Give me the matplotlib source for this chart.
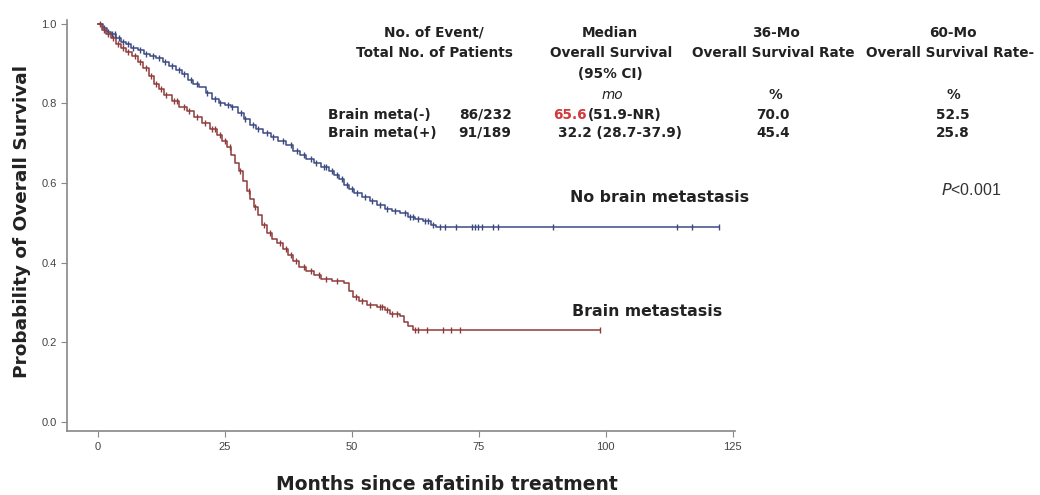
import numpy as np
import matplotlib
matplotlib.use("Agg")
import matplotlib.pyplot as plt

# Kaplan-Meier step points (months, survival probability)
no_bm_time = [0, 1.0, 1.8, 2.6, 3.5, 4.5, 5.5, 6.5, 7.8, 9.0, 10.2, 11.5, 12.8, 14.0,
              15.3, 16.5, 17.8, 18.8, 20.0, 21.2, 22.5, 23.8, 25.0, 26.2, 27.5, 28.8,
              30.0, 31.2, 32.5, 34.0, 35.5, 37.0, 38.5, 39.8, 41.0, 42.5, 44.0, 45.5,
              46.5, 47.5, 48.5, 49.5, 50.5, 52.0, 53.5, 55.0, 56.5, 58.0, 59.5, 61.0,
              62.5, 64.0, 65.5, 66.5, 122.4]
no_bm_surv = [1.0, 0.99, 0.98, 0.975, 0.965, 0.955, 0.95, 0.94, 0.935, 0.925, 0.92,
              0.915, 0.905, 0.895, 0.885, 0.875, 0.86, 0.85, 0.84, 0.825, 0.81, 0.80,
              0.795, 0.79, 0.775, 0.76, 0.745, 0.735, 0.725, 0.715, 0.705, 0.695, 0.68,
              0.67, 0.66, 0.65, 0.64, 0.63, 0.62, 0.61, 0.595, 0.585, 0.575, 0.565,
              0.555, 0.545, 0.535, 0.53, 0.525, 0.515, 0.51, 0.505, 0.495, 0.49, 0.49]
no_bm_censor = [1.2, 2.0, 2.8, 3.3, 4.2, 5.0, 6.0, 7.0, 8.3, 9.5, 10.8, 12.0, 13.3,
                14.5, 16.0, 17.0, 18.3, 19.5, 21.5, 23.0, 24.0, 25.6, 26.5, 28.2, 29.0,
                30.6, 31.5, 33.2, 34.5, 36.5, 38.0, 39.2, 40.5, 42.0, 43.0, 44.6, 45.0,
                46.0, 47.0, 48.0, 49.0, 50.0, 51.0, 52.5, 54.0, 55.5, 57.0, 58.5, 60.5,
                61.5, 62.0, 63.0, 64.5, 65.0, 66.0, 67.3, 68.3, 70.6, 73.6, 74.2, 74.8,
                75.6, 77.8, 78.7, 89.6, 114, 117, 122.4]

bm_time = [0, 0.8, 1.6, 2.5, 3.5, 4.5, 5.5, 6.8, 7.8, 8.8, 10.0, 11.0, 12.0, 13.0,
           14.5, 16.0, 17.5, 19.0, 20.5, 22.0, 23.5, 24.5, 25.5, 26.3, 27.0, 27.8,
           28.5, 29.3, 30.0, 30.8, 31.5, 32.3, 33.2, 34.2, 35.2, 36.5, 37.5, 38.5,
           39.5, 41.0, 42.5, 44.0, 46.0, 48.5, 49.5, 50.3, 51.5, 53.0, 55.0, 56.5,
           57.5, 59.5, 60.2, 61.0, 62.0, 98.8]
bm_surv = [1.0, 0.985, 0.975, 0.965, 0.95, 0.94, 0.93, 0.92, 0.905, 0.89, 0.87, 0.85,
           0.835, 0.82, 0.805, 0.79, 0.78, 0.765, 0.75, 0.735, 0.72, 0.705, 0.69, 0.67,
           0.65, 0.63, 0.605, 0.58, 0.56, 0.54, 0.52, 0.495, 0.475, 0.46, 0.45, 0.435,
           0.42, 0.405, 0.39, 0.38, 0.37, 0.36, 0.355, 0.35, 0.33, 0.315, 0.305, 0.295,
           0.29, 0.28, 0.27, 0.265, 0.25, 0.24, 0.232, 0.232]
bm_censor = [0.5, 1.2, 2.0, 3.0, 4.0, 5.0, 6.0, 7.2, 8.2, 9.5, 10.5, 11.5, 12.5, 13.5,
             15.0, 15.5, 17.0, 18.0, 19.5, 21.0, 22.5, 23.0, 24.0, 25.0, 26.0, 28.0,
             29.8, 31.0, 32.8, 33.8, 35.8, 37.0, 38.0, 39.0, 40.5, 42.0, 43.5, 45.0,
             47.0, 50.8, 52.0, 53.5, 55.5, 56.0, 57.0, 58.0, 58.8, 62.4, 63.0, 64.8,
             68.0, 69.6, 71.3, 98.8]

x_ticks = [0, 25, 50, 75, 100, 125]
y_ticks = [0.0, 0.2, 0.4, 0.6, 0.8, 1.0]


def surv_at(times, surv, t):
    idx = np.searchsorted(times, t, side="right") - 1
    return np.array(surv)[idx]


fig = plt.figure(figsize=(10.4, 4.95), dpi=100)
ax = fig.add_axes([0.0644, 0.129, 0.642, 0.831])

blue = "#3c4a82"
red = "#8e3b3b"

ax.step(no_bm_time, no_bm_surv, where="post", color=blue, lw=1.1)
ax.step(bm_time, bm_surv, where="post", color=red, lw=1.1)
ax.plot(no_bm_censor, surv_at(no_bm_time, no_bm_surv, no_bm_censor), ls="none",
        marker="|", ms=5, mew=1.0, color=blue)
ax.plot(bm_censor, surv_at(bm_time, bm_surv, bm_censor), ls="none",
        marker="|", ms=5, mew=1.0, color=red)

ax.set_xlim(-6.1, 125.4)
ax.set_ylim(-0.023, 1.01)
ax.set_xticks(x_ticks)
ax.set_yticks(y_ticks)
ax.set_yticklabels(["%.1f" % v for v in y_ticks])
for s in ["top", "right"]:
    ax.spines[s].set_visible(False)
for s in ["left", "bottom"]:
    ax.spines[s].set_color("#888888")
    ax.spines[s].set_linewidth(1.2)
ax.tick_params(colors="#888888", labelcolor="#444444", labelsize=8, length=4)
for lab in ax.get_xticklabels() + ax.get_yticklabels():
    lab.set_family("Liberation Sans")

FAM = "DejaVu Sans"

fig.text(22 / 1040, 1 - 222 / 495, "Probability of Overall Survival", rotation=90,
         ha="center", va="center", fontsize=13.3, fontweight="bold", family=FAM,
         color="#222222")
fig.text(447 / 1040, 1 - 484 / 495, "Months since afatinib treatment", ha="center",
         va="center", fontsize=13.5, fontweight="bold", family=FAM, color="#222222")

W, H = 1040.0, 495.0


def pt(px, py, s, **kw):
    opts = dict(ha="center", va="center", fontsize=9.8, fontweight="bold",
                family=FAM, color="#222222")
    opts.update(kw)
    fig.text(px / W, 1 - py / H, s, **opts)


pt(434, 33, "No. of Event/")
pt(434, 53, "Total No. of Patients")
pt(610, 33, "Median")
pt(611, 53, "Overall Survival")
pt(610, 74, "(95% CI)")
pt(612, 95, "mo", style="italic", fontweight="normal")
pt(776, 33, "36-Mo")
pt(773, 53, "Overall Survival Rate")
pt(775, 95, "%")
pt(953, 33, "60-Mo")
pt(950, 53, "Overall Survival Rate-")
pt(953, 95, "%")

pt(328, 115, "Brain meta(-)", ha="left")
pt(328, 133, "Brain meta(+)", ha="left")
pt(485, 115, "86/232")
pt(485, 133, "91/189")
pt(553, 115, "65.6", ha="left", color="#d23a3a")
pt(588, 115, "(51.9-NR)", ha="left")
pt(558, 133, "32.2 (28.7-37.9)", ha="left")
pt(773, 115, "70.0")
pt(773, 133, "45.4")
pt(953, 115, "52.5")
pt(953, 133, "25.8")

pt(971, 190, r"$\it{P}$<0.001", fontweight="normal", color="#333333",
   family="Liberation Sans", fontsize=11.5)
pt(570, 198, "No brain metastasis", ha="left", fontsize=11.3)
pt(572, 312, "Brain metastasis", ha="left", fontsize=11.3)

fig.savefig("out.png", dpi=100)
